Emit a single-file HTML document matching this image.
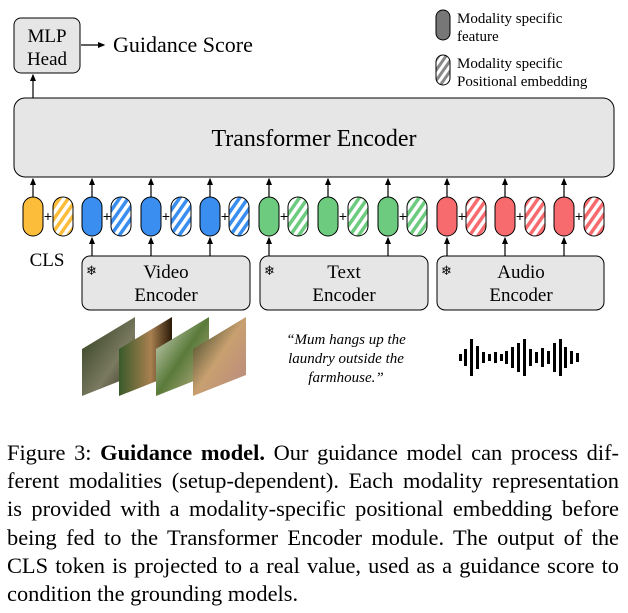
<!DOCTYPE html>
<html><head><meta charset="utf-8"><style>
body{margin:0;width:628px;height:613px;background:#fff;overflow:hidden;font-family:"Liberation Serif",serif;}
#cap{position:absolute;left:7px;top:439px;width:612px;font-size:22.4px;line-height:28.2px;color:#000;}
#cap div{text-align:justify;text-align-last:justify;white-space:nowrap;}
#cap div.l{text-align-last:left;}
</style></head><body>
<svg width="628" height="440" style="position:absolute;left:0;top:0" font-family="Liberation Serif, serif">
<defs>
<marker id="a" markerWidth="6" markerHeight="6" refX="5" refY="3" orient="auto"><path d="M0,0.5 L6,3 L0,5.5z" fill="#000"/></marker>
<pattern id="hy" width="7" height="7" patternUnits="userSpaceOnUse" patternTransform="rotate(35)"><rect width="7" height="7" fill="#fff"/><rect width="3.5" height="7" fill="#fbbd3a"/></pattern>
<pattern id="hb" width="7" height="7" patternUnits="userSpaceOnUse" patternTransform="rotate(35)"><rect width="7" height="7" fill="#fff"/><rect width="3.5" height="7" fill="#3a8ef0"/></pattern>
<pattern id="hg" width="7" height="7" patternUnits="userSpaceOnUse" patternTransform="rotate(35)"><rect width="7" height="7" fill="#fff"/><rect width="3.5" height="7" fill="#6ccb7e"/></pattern>
<pattern id="hr" width="7" height="7" patternUnits="userSpaceOnUse" patternTransform="rotate(35)"><rect width="7" height="7" fill="#fff"/><rect width="3.5" height="7" fill="#f76b6e"/></pattern>
<pattern id="hk" width="6" height="6" patternUnits="userSpaceOnUse" patternTransform="rotate(35)"><rect width="6" height="6" fill="#fff"/><rect width="3" height="6" fill="#888"/></pattern>
<linearGradient id="f1" x1="0" y1="0" x2="1" y2="1"><stop offset="0" stop-color="#2c3a1a"/><stop offset="0.6" stop-color="#7a7a60"/><stop offset="1" stop-color="#302a18"/></linearGradient>
<linearGradient id="f2" x1="0" y1="0" x2="1" y2="0"><stop offset="0" stop-color="#3a5a2a"/><stop offset="0.6" stop-color="#a88050"/><stop offset="1" stop-color="#2a1a08"/></linearGradient>
<linearGradient id="f3" x1="0" y1="0" x2="1" y2="1"><stop offset="0" stop-color="#dde0d0"/><stop offset="0.5" stop-color="#5a7a3a"/><stop offset="1" stop-color="#c8b890"/></linearGradient>
<linearGradient id="f4" x1="0" y1="0" x2="1" y2="1"><stop offset="0" stop-color="#2a3a1a"/><stop offset="0.5" stop-color="#c8a070"/><stop offset="1" stop-color="#b88880"/></linearGradient>
</defs>
<rect x="14" y="18" width="66" height="55" rx="7" fill="#e6e6e6" stroke="#000" stroke-width="1"/>
<text x="47" y="42" font-size="19" text-anchor="middle">MLP</text>
<text x="47" y="65" font-size="19" text-anchor="middle">Head</text>
<line x1="81" y1="45" x2="104" y2="45" stroke="#000" stroke-width="1.2" marker-end="url(#a)"/>
<text x="113" y="52" font-size="22">Guidance Score</text>
<line x1="33" y1="98" x2="33" y2="75" stroke="#000" stroke-width="1.2" marker-end="url(#a)"/>
<rect x="436" y="10" width="14" height="30" rx="7" fill="#777" stroke="#000"/>
<text x="457" y="23" font-size="15">Modality specific</text>
<text x="457" y="41" font-size="15">feature</text>
<rect x="436" y="55" width="14" height="30" rx="7" fill="url(#hk)" stroke="#000"/>
<text x="457" y="68" font-size="15">Modality specific</text>
<text x="457" y="86" font-size="15">Positional embedding</text>
<rect x="14" y="98" width="600" height="79" rx="11" fill="#e6e6e6" stroke="#000" stroke-width="1"/>
<text x="314" y="146" font-size="24" text-anchor="middle">Transformer Encoder</text>
<g stroke="#000" stroke-width="1">
<rect x="23" y="197" width="20" height="39" rx="10" fill="#fbbd3a"/><rect x="53" y="197" width="20" height="39" rx="10" fill="url(#hy)"/>
<rect x="82" y="197" width="20" height="39" rx="10" fill="#3a8ef0"/><rect x="111" y="197" width="20" height="39" rx="10" fill="url(#hb)"/>
<rect x="141" y="197" width="20" height="39" rx="10" fill="#3a8ef0"/><rect x="171" y="197" width="20" height="39" rx="10" fill="url(#hb)"/>
<rect x="200" y="197" width="20" height="39" rx="10" fill="#3a8ef0"/><rect x="229" y="197" width="20" height="39" rx="10" fill="url(#hb)"/>
<rect x="259" y="197" width="20" height="39" rx="10" fill="#6ccb7e"/><rect x="288" y="197" width="20" height="39" rx="10" fill="url(#hg)"/>
<rect x="318" y="197" width="20" height="39" rx="10" fill="#6ccb7e"/><rect x="348" y="197" width="20" height="39" rx="10" fill="url(#hg)"/>
<rect x="378" y="197" width="20" height="39" rx="10" fill="#6ccb7e"/><rect x="407" y="197" width="20" height="39" rx="10" fill="url(#hg)"/>
<rect x="437" y="197" width="20" height="39" rx="10" fill="#f76b6e"/><rect x="466" y="197" width="20" height="39" rx="10" fill="url(#hr)"/>
<rect x="495" y="197" width="20" height="39" rx="10" fill="#f76b6e"/><rect x="525" y="197" width="20" height="39" rx="10" fill="url(#hr)"/>
<rect x="554" y="197" width="20" height="39" rx="10" fill="#f76b6e"/><rect x="584" y="197" width="20" height="39" rx="10" fill="url(#hr)"/>
</g>
<g font-size="14" text-anchor="middle" font-family="Liberation Sans, sans-serif">
<text x="48" y="221">+</text><text x="107" y="221">+</text><text x="166" y="221">+</text><text x="225" y="221">+</text><text x="284" y="221">+</text><text x="343" y="221">+</text><text x="403" y="221">+</text><text x="462" y="221">+</text><text x="520" y="221">+</text><text x="579" y="221">+</text>
</g>
<g stroke="#000" stroke-width="1.2" marker-end="url(#a)">
<line x1="33" y1="197" x2="33" y2="179"/><line x1="92" y1="197" x2="92" y2="179"/><line x1="151" y1="197" x2="151" y2="179"/><line x1="210" y1="197" x2="210" y2="179"/><line x1="269" y1="197" x2="269" y2="179"/><line x1="328" y1="197" x2="328" y2="179"/><line x1="388" y1="197" x2="388" y2="179"/><line x1="447" y1="197" x2="447" y2="179"/><line x1="505" y1="197" x2="505" y2="179"/><line x1="564" y1="197" x2="564" y2="179"/>
<line x1="92" y1="256" x2="92" y2="238"/><line x1="151" y1="256" x2="151" y2="238"/><line x1="210" y1="256" x2="210" y2="238"/><line x1="269" y1="256" x2="269" y2="238"/><line x1="388" y1="256" x2="388" y2="238"/><line x1="447" y1="256" x2="447" y2="238"/><line x1="505" y1="256" x2="505" y2="238"/><line x1="564" y1="256" x2="564" y2="238"/>
</g>
<text x="47" y="266" font-size="19" text-anchor="middle">CLS</text>
<rect x="82" y="256" width="168" height="54" rx="8" fill="#e6e6e6" stroke="#000"/>
<rect x="260" y="256" width="168" height="54" rx="8" fill="#e6e6e6" stroke="#000"/>
<rect x="437" y="256" width="167" height="54" rx="8" fill="#e6e6e6" stroke="#000"/>
<g font-size="13" font-family="DejaVu Sans, sans-serif"><text x="86" y="275">❄</text><text x="264" y="275">❄</text><text x="441" y="275">❄</text></g>
<g font-size="19" text-anchor="middle">
<text x="166" y="278">Video</text><text x="166" y="301">Encoder</text>
<text x="344" y="278">Text</text><text x="344" y="301">Encoder</text>
<text x="521" y="278">Audio</text><text x="521" y="301">Encoder</text>
</g>
<polygon points="82,349 135,317 135,375 82,396" fill="url(#f1)"/>
<polygon points="119,349 172,317 172,375 119,396" fill="url(#f2)"/>
<polygon points="156,349 209,317 209,375 156,396" fill="url(#f3)"/>
<polygon points="193,349 246,317 246,375 193,396" fill="url(#f4)"/>
<g font-size="15" font-style="italic" text-anchor="middle">
<text x="346" y="344">“Mum hangs up the</text>
<text x="346" y="363">laundry outside the</text>
<text x="346" y="382">farmhouse.”</text>
</g>
<g fill="#000">
<rect x="459" y="354" width="3" height="7"/><rect x="464" y="349" width="3" height="17"/><rect x="470" y="339" width="3" height="37"/><rect x="476" y="346" width="3" height="23"/><rect x="482" y="352" width="3" height="11"/><rect x="488" y="354" width="3" height="7"/><rect x="494" y="352" width="3" height="11"/><rect x="500" y="354" width="3" height="7"/><rect x="505" y="351" width="3" height="13"/><rect x="511" y="347" width="3" height="21"/><rect x="517" y="343" width="3" height="29"/><rect x="523" y="339" width="3" height="37"/><rect x="529" y="349" width="3" height="17"/><rect x="535" y="352" width="3" height="11"/><rect x="541" y="348" width="3" height="19"/><rect x="547" y="351" width="3" height="13"/><rect x="553" y="343" width="3" height="29"/><rect x="559" y="339" width="3" height="37"/><rect x="564" y="347" width="3" height="21"/><rect x="570" y="351" width="3" height="13"/><rect x="576" y="353" width="3" height="9"/>
</g>
</svg>
<div id="cap">
<div>Figure 3: <b>Guidance model.</b> Our guidance model can process dif-</div>
<div>ferent modalities (setup-dependent). Each modality representation</div>
<div>is provided with a modality-specific positional embedding before</div>
<div>being fed to the Transformer Encoder module. The output of the</div>
<div>CLS token is projected to a real value, used as a guidance score to</div>
<div class="l">condition the grounding models.</div>
</div>
</body></html>
